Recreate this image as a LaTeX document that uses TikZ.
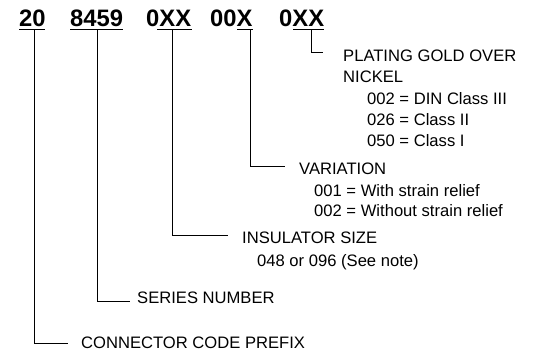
\documentclass[tikz,border=0pt]{standalone}
\usepackage{fontspec}
\setmainfont{Liberation Sans}
\begin{document}
\begin{tikzpicture}[x=1pt,y=-1pt,
  lbl/.style={anchor=base west, inner sep=0pt, font=\fontsize{16.6}{20}\selectfont},
  ttl/.style={anchor=base west, inner sep=0pt, font=\fontsize{23.8}{28}\selectfont\bfseries},
  lead/.style={line width=0.8pt, line join=miter},
  uline/.style={line width=1.4pt}]
\useasboundingbox (0,0) rectangle (535,351);
% code title
\node[ttl] (t1) at (19,26) {20};
\node[ttl] (t2) at (70,26) {8459};
\node[ttl] (t3) at (146,26) {0XX};
\node[ttl] (t4) at (210,26) {00X};
\node[ttl] (t5) at (279,26) {0XX};
% underlines
\draw[uline] (19,29.5) -- (45,29.5);
\draw[uline] (70,29.5) -- (123,29.5);
\draw[uline] (157,29.5) -- (192,29.5);
\draw[uline] (237,29.5) -- (253,29.5);
\draw[uline] (293,29.5) -- (324,29.5);
% labels
\node[lbl] (p1) at (343,61) {PLATING GOLD OVER};
\node[lbl] (p2) at (343,82) {NICKEL};
\node[lbl] (p3) at (367,104) {002 = DIN Class III};
\node[lbl] (p4) at (367,125) {026 = Class II};
\node[lbl] (p5) at (367,146) {050 = Class I};
\node[lbl] (v1) at (299,174) {VARIATION};
\node[lbl] (v2) at (314,196) {001 = With strain relief};
\node[lbl] (v3) at (314,216) {002 = Without strain relief};
\node[lbl] (i1) at (242,243) {INSULATOR SIZE};
\node[lbl] (i2) at (257,266) {048 or 096 (See note)};
\node[lbl] (s1) at (137,303) {SERIES NUMBER};
\node[lbl] (c1) at (81,348) {CONNECTOR CODE PREFIX};
% leader ends
\coordinate (u1) at (34,29.5);
\coordinate (u2) at (97,29.5);
\coordinate (u3) at (172,29.5);
\coordinate (u4) at (250,29.5);
\coordinate (u5) at (311,29.5);
\coordinate (e1) at (68,343);
\coordinate (e2) at (130,301);
\coordinate (e3) at (228,235);
\coordinate (e4) at (285,166);
\coordinate (e5) at (323,52);
\draw[lead] (u1) |- (e1);
\draw[lead] (u2) |- (e2);
\draw[lead] (u3) |- (e3);
\draw[lead] (u4) |- (e4);
\draw[lead] (u5) |- (e5);
\end{tikzpicture}
\end{document}
